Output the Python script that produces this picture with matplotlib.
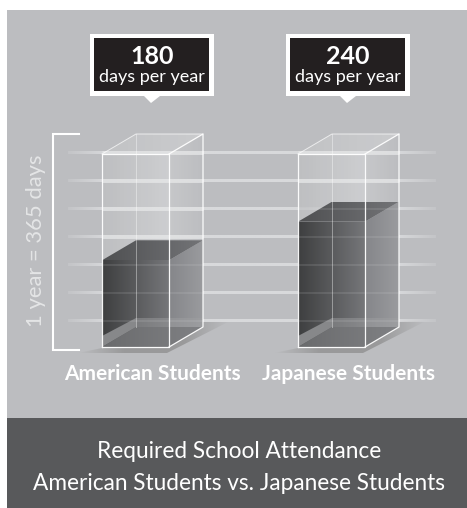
import matplotlib
matplotlib.use("Agg")
import matplotlib.pyplot as plt
from matplotlib.patches import Polygon, Rectangle
import numpy as np

# data
categories = ["American Students", "Japanese Students"]
days_label = [180, 240]
fill_days = [164, 237]      # height of the dark block as drawn
year_days = 365
grid_days = [49, 102, 155, 208, 261, 314, 367]
title_lines = ["Required School Attendance", "American Students vs. Japanese Students"]

W, H = 467, 508
fig = plt.figure(figsize=(W / 100, H / 100), dpi=100, facecolor="white")
ax = fig.add_axes([0, 0, 1, 1])

# days -> pixels: 0 sits at y=347, 365 at y=154, first bar at x=102
PX_DAY = 193 / year_days
XU = 1 / 196
YU = 1 / PX_DAY
ax.set_ylim((347 - H) * YU, 347 * YU)
ax.set_xlim(-102 * XU, (W - 102) * XU)
ax.axis("off")

bar_w = 67 * XU
dep_x = 34 * XU
dep_y = 20 * YU
font = "Lato"


def ramp(pts, c0, c1, alpha=1.0, z=3):
    # gradient clipped to a polygon
    pts = np.array(pts)
    x0, x1 = pts[:, 0].min(), pts[:, 0].max()
    y0, y1 = pts[:, 1].min(), pts[:, 1].max()
    t = np.linspace(0, 1, 64)[None, :]
    c0 = np.array(matplotlib.colors.to_rgb(c0))
    c1 = np.array(matplotlib.colors.to_rgb(c1))
    img = c0 + (c1 - c0) * t[..., None]
    im = ax.imshow(img, extent=[x0, x1, y0, y1], origin="lower", aspect="auto",
                   alpha=alpha, zorder=z, interpolation="bilinear")
    clip = Polygon(pts, transform=ax.transData, fc="none", ec="none")
    ax.add_patch(clip)
    im.set_clip_path(clip)


def fade_line(d, xa, xb, color="#dcdddf", thick=2.2, fade=40, top=0.9, z=2):
    # horizontal rule that goes faint at both ends
    n = 200
    u = np.linspace(0, 1, n)
    span = (xb - xa) / XU
    a = 0.25 + (top - 0.25) * np.clip(np.minimum(u, 1 - u) * span / fade, 0, 1)
    img = np.zeros((1, n, 4))
    img[..., :3] = matplotlib.colors.to_rgb(color)
    img[..., 3] = a
    ax.imshow(img, extent=[xa, xb, d - thick / 2 * YU, d + thick / 2 * YU], origin="lower",
              aspect="auto", zorder=z, interpolation="bilinear")


def shadow(x):
    # soft floor shadow, running back to the right
    pts = np.array([(x - 24 * XU, -6 * YU), (x + 65 * XU, -6 * YU), (x + 128 * XU, 26 * YU),
                    (x + bar_w + dep_x - 2 * XU, 26 * YU), (x + bar_w, -1 * YU), (x, -1 * YU)])
    n = 200
    u = np.linspace(0, 1, n)
    a = np.clip(np.minimum(u / 0.3, (1 - u) / 0.3), 0, 1) * 0.75
    img = np.zeros((1, n, 4))
    img[..., :3] = 0.56
    img[..., 3] = a
    im = ax.imshow(img, extent=[pts[:, 0].min(), pts[:, 0].max(), pts[:, 1].min(), pts[:, 1].max()],
                   origin="lower", aspect="auto", zorder=1.5, interpolation="bilinear")
    clip = Polygon(pts, transform=ax.transData, fc="none", ec="none")
    ax.add_patch(clip)
    im.set_clip_path(clip)


# backgrounds
ax.add_patch(Rectangle((-95 * XU, (347 - 418) * YU), 460 * XU, 408 * YU,
                       fc="#bcbdc0", ec="none", zorder=0.5))
ax.add_patch(Rectangle((-95 * XU, (347 - 508) * YU), 460 * XU, 90 * YU,
                       fc="#58595b", ec="none", zorder=0.6))

for d in grid_days:
    fade_line(d, -34 * XU, 334 * XU)

for i, name in enumerate(categories):
    x0, x1 = i, i + bar_w
    shadow(i)
    top = year_days
    fill = fill_days[i]

    # glass box
    ramp([(x0, 0), (x1, 0), (x1, top), (x0, top)], "#bfc0c2", "#d2d3d5", alpha=0.8, z=2.5)
    ramp([(x1, 0), (x1 + dep_x, dep_y), (x1 + dep_x, top + dep_y), (x1, top)],
         "#cbccce", "#bdbec1", alpha=0.75, z=2.5)
    ramp([(x0, top), (x1, top), (x1 + dep_x, top + dep_y), (x0 + dep_x, top + dep_y)],
         "#c4c5c7", "#d0d1d3", alpha=0.75, z=2.5)

    # bright bands where the rules cross the empty part of the box
    for d in grid_days:
        if d > fill + dep_y:
            fade_line(d, x0, x1 + dep_x, color="#e6e7e8", thick=3.5, fade=1, top=0.75, z=2.7)

    # dark block
    ramp([(x0, 0), (x1, 0), (x1, fill), (x0, fill)], "#3e3f40", "#76777a", z=3)
    ramp([(x1, 0), (x1 + dep_x, dep_y), (x1 + dep_x, fill + dep_y), (x1, fill)],
         "#85868a", "#9a9b9e", z=3)
    ramp([(x0, fill), (x1, fill), (x1 + dep_x, fill + dep_y), (x0 + dep_x, fill + dep_y)],
         "#4f5052", "#737477", z=3)
    ramp([(x0, 0), (x1, 0), (x1 + dep_x, dep_y), (x0 + dep_x, dep_y)],
         "#6a6b6d", "#808184", z=3.1)
    ax.add_patch(Polygon([(x0, 0), (x0 + dep_x, dep_y), (x0 + dep_x, 29 * YU), (x0, 11 * YU)],
                         fc="#87888a", ec="none", zorder=3.2))
    ax.add_patch(Polygon([(x0 + dep_x, dep_y), (x1 + dep_x, dep_y), (x1 + dep_x, 29 * YU), (x0 + dep_x, 29 * YU)],
                         fc="#a0a1a3", ec="none", alpha=0.45, zorder=3.2))

    # rules seen through the block
    for d in grid_days:
        if d < fill + dep_y:
            ax.plot([x0, x1 + dep_x], [d, d], color="#dcdddf", lw=1.2, alpha=0.15, zorder=3.3)

    # box edges
    edge = dict(color="white", lw=0.9, zorder=4, alpha=0.95)
    ax.plot([x0, x1, x1, x0, x0], [0, 0, top, top, 0], **edge)
    ax.plot([x1, x1 + dep_x, x1 + dep_x, x1], [0, dep_y, top + dep_y, top], **edge)
    ax.plot([x0, x0 + dep_x, x1 + dep_x], [top, top + dep_y, top + dep_y], color="white", lw=0.7, alpha=0.7, zorder=4)
    ax.plot([x0 + dep_x, x0 + dep_x], [dep_y, top + dep_y], color="white", lw=0.7, alpha=0.4, zorder=4)

    # label
    ax.text(x0 + 50 * XU, (347 - 374) * YU, name, color="white", fontsize=15,
            fontweight="bold", family=font, ha="center", va="center", zorder=5)

    # callout
    cx = x0 + 50 * XU
    by = (347 - 96) * YU
    ax.add_patch(Rectangle((cx - 62 * XU, by), 124 * XU, 62 * YU, fc="white", ec="none", zorder=5))
    ax.add_patch(Polygon([(cx - 8 * XU, by), (cx + 8 * XU, by), (cx - 1 * XU, by - 7 * YU)],
                         fc="white", ec="none", zorder=5))
    ax.add_patch(Rectangle((cx - 58 * XU, by + 5 * YU), 115 * XU, 53 * YU,
                           fc="#231f20", ec="none", zorder=5.1))
    ax.text(cx, (347 - 57) * YU, str(days_label[i]), color="white", fontsize=18, fontweight="bold",
            family=font, ha="center", va="center", zorder=6)
    ax.text(cx, (347 - 77) * YU, "days per year", color="white", fontsize=13,
            family=font, ha="center", va="center", zorder=6)

# year bracket
bx = -49 * XU
ax.plot([bx + 26 * XU, bx, bx, bx + 26 * XU], [-3 * YU, -3 * YU, 213 * YU, 213 * YU],
        color="white", lw=1.5, zorder=4, solid_joinstyle="miter")
ax.text(-66 * XU, (347 - 241) * YU, "1 year = 365 days", color="#e4e5e6", fontsize=15.8, rotation=90,
        family=font, ha="center", va="center", zorder=5)

# title band
ax.text(137 * XU, (347 - 451) * YU, title_lines[0], color="white", fontsize=16.3, family=font,
        ha="center", va="center", zorder=5)
ax.text(137 * XU, (347 - 483) * YU, title_lines[1], color="white", fontsize=16.3, family=font,
        ha="center", va="center", zorder=5)

ax.set_ylim((347 - H) * YU, 347 * YU)
ax.set_xlim(-102 * XU, (W - 102) * XU)
fig.savefig("out.png", dpi=100)
